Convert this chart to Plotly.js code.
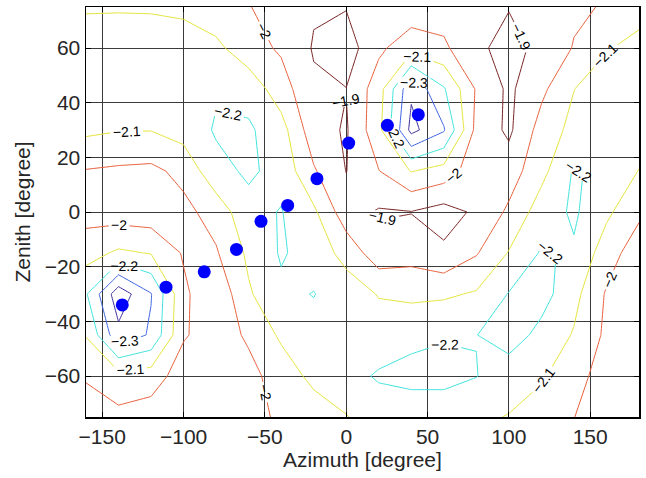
<!DOCTYPE html>
<html>
<head>
<meta charset="utf-8">
<script src="https://cdn.plot.ly/plotly-3.0.1.min.js"></script>
<style>html,body{margin:0;padding:0;background:#fff;}#chart{width:646px;height:478px;}</style>
</head>
<body>
<div id="chart"></div>
<script>
// Grid of the measured field (azimuth columns, zenith rows)
var azimuth = [-160,-140,-120,-100,-80,-60,-40,-20,0,20,40,60,80,100,120,140,160,180];
var zenith = [-75,-60,-45,-30,-15,0,15,30,45,60,75];
var zM75 = [-1.95,-1.974,-1.95,-1.92,-1.93,-1.96,-2.02,-2.046,-2.095,-2.15,-2.13,-2.12,-2.116,-2.096,-2.06,-2.002,-1.93,-1.92];
var zM60 = [-2.01,-2.064,-2.05,-1.95,-1.92,-1.97,-2.045,-2.127,-2.17,-2.21,-2.235,-2.24,-2.203,-2.143,-2.11,-2.05,-1.94,-1.93];
var zM45 = [-2.105,-2.371,-2.287,-2.01,-1.95,-2.015,-2.117,-2.17,-2.16,-2.15,-2.17,-2.19,-2.198,-2.25,-2.17,-2.092,-1.981,-1.93];
var zM30 = [-2.19,-2.462,-2.305,-2.02,-1.92,-2.088,-2.18,-2.203,-2.153,-2.094,-2.08,-2.085,-2.11,-2.205,-2.24,-2.13,-1.99,-1.95];
var zM15 = [-2.06,-2.117,-2.095,-1.99,-1.99,-2.12,-2.21,-2.16,-2.065,-1.941,-1.96,-1.918,-1.992,-2.106,-2.21,-2.188,-2.047,-1.943];
var z0   = [-1.96,-1.947,-1.94,-1.973,-2.04,-2.17,-2.205,-2.119,-1.94,-1.89,-1.897,-1.86,-1.916,-2.018,-2.15,-2.215,-2.12,-2.02];
var zP15 = [-1.995,-1.984,-1.977,-2.028,-2.17,-2.215,-2.17,-2.011,-1.898,-1.997,-2.105,-2.06,-1.936,-1.95,-2.07,-2.21,-2.175,-2.097];
var zP30 = [-2.12,-2.105,-2.103,-2.14,-2.21,-2.215,-2.14,-1.94,-1.89,-2.07,-2.43,-2.31,-1.97,-1.881,-2.04,-2.13,-2.16,-2.15];
var zP45 = [-2.16,-2.16,-2.16,-2.17,-2.19,-2.162,-2.046,-1.916,-1.902,-2.054,-2.382,-2.21,-1.99,-1.881,-1.977,-2.098,-2.169,-2.17];
var zP60 = [-2.17,-2.16,-2.15,-2.17,-2.123,-2.04,-1.986,-1.892,-1.85,-1.98,-2.06,-2.02,-1.909,-1.885,-1.912,-2.007,-2.09,-2.14];
var zP75 = [-2.086,-2.09,-2.09,-2.07,-2.04,-2.005,-1.95,-1.91,-1.905,-1.95,-1.94,-1.95,-1.95,-1.902,-1.95,-1.98,-2.01,-2.05];
var levelStart = -2.4, levelEnd = -1.9, levelStep = 0.1;

// Blue points
var pointAz  = [-137.7,-110.8,-87.3,-67.5,-52.4,-36,-18,1.5,25.3,44.3];
var pointZen = [-34,-27.5,-21.9,-13.7,-3.4,2.4,12.2,25.2,31.7,35.6];

var zGrid = [zM75,zM60,zM45,zM30,zM15,z0,zP15,zP30,zP45,zP60,zP75];

var lineColors = [
  [0.0,'#3a2c9c'],
  [0.2,'#3d63e0'],
  [0.4,'#3fe3dc'],
  [0.6,'#e4e43c'],
  [0.8,'#e8603c'],
  [1.0,'#7a2424']
];

var contourTrace = {
  type: 'contour',
  x: azimuth,
  y: zenith,
  z: zGrid,
  zauto: false,
  zmin: levelStart,
  zmax: levelEnd,
  autocontour: false,
  colorscale: lineColors,
  showscale: false,
  contours: {
    coloring: 'lines',
    start: levelStart,
    end: levelEnd + 0.01,
    size: levelStep,
    showlabels: true,
    labelfont: {family: 'Liberation Sans, Arial, sans-serif', size: 14, color: '#000'},
    labelformat: '.1~f'
  },
  line: {width: 1, smoothing: 0},
  hoverinfo: 'skip'
};

var pointTrace = {
  type: 'scatter',
  mode: 'markers',
  x: pointAz,
  y: pointZen,
  marker: {size: 13, color: '#0000ff', line: {width: 0}},
  hoverinfo: 'skip'
};

var layout = {
  width: 646,
  height: 478,
  margin: {l: 86, r: 7, t: 7, b: 61},
  paper_bgcolor: '#fff',
  plot_bgcolor: '#fff',
  showlegend: false,
  font: {family: 'Liberation Sans, Arial, sans-serif', size: 21, color: '#262626'},
  xaxis: {
    range: [-160, 180],
    tick0: 0, dtick: 50,
    showgrid: true, gridcolor: '#3a3a3a', gridwidth: 1,
    zeroline: false,
    showline: true, linecolor: '#000', linewidth: 1.5, mirror: 'ticks',
    ticks: 'inside', ticklen: 5, tickcolor: '#000',
    title: {text: 'Azimuth [degree]', font: {size: 21, color: '#262626'}, standoff: 4}
  },
  yaxis: {
    range: [-75, 75],
    tick0: 0, dtick: 20,
    showgrid: true, gridcolor: '#3a3a3a', gridwidth: 1,
    zeroline: false,
    showline: true, linecolor: '#000', linewidth: 1.5, mirror: 'ticks',
    ticks: 'inside', ticklen: 5, tickcolor: '#000',
    title: {text: 'Zenith [degree]', font: {size: 21, color: '#262626'}, standoff: 8}
  }
};

Plotly.newPlot('chart', [contourTrace, pointTrace], layout, {displayModeBar: false, staticPlot: true});
</script>
</body>
</html>
